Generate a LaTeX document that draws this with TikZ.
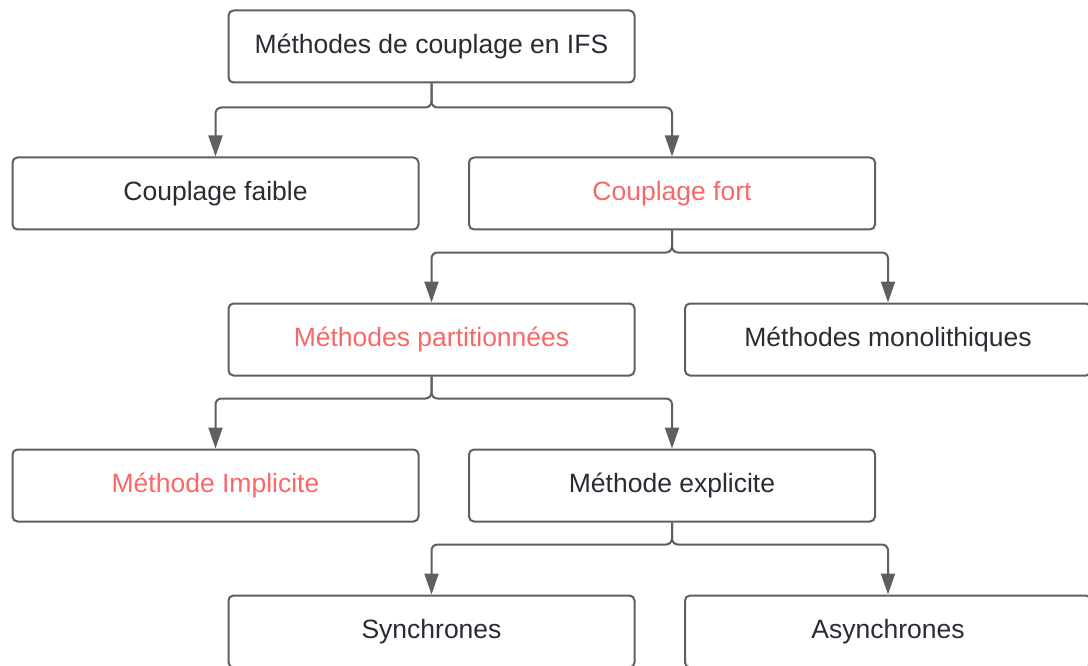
\documentclass[tikz,border=0pt]{standalone}
\usepackage{fontspec}
\setmainfont{Liberation Sans}
\usetikzlibrary{arrows.meta}
\definecolor{edgegray}{HTML}{5F5F5F}
\definecolor{ink}{HTML}{282C33}
\definecolor{hilite}{HTML}{F86868}
\begin{document}
\begin{tikzpicture}[x=1pt,y=-1pt,
  box/.style={draw=edgegray, line width=2pt, rounded corners=5pt,
    minimum width=406pt, minimum height=72pt, inner sep=0pt,
    text=ink, font=\fontsize{26.5}{31}\selectfont, fill=white},
  hot/.style={box, text=hilite},
  link/.style={draw=edgegray, line width=2pt, rounded corners=6pt,
    -{Triangle[length=21pt,width=14pt,sharp]}}]
\useasboundingbox (0,0) rectangle (1088,666);
% tree of coupling methods
\node[box] (root) at (431.5,46.5) {Méthodes de couplage en IFS};
\node[box] (faible) at (215.5,193.5) {Couplage faible};
\node[hot] (fort) at (672,193.5) {Couplage fort};
\node[hot] (part) at (431.5,339.5) {Méthodes partitionnées};
\node[box] (mono) at (888,339.5) {Méthodes monolithiques};
\node[hot] (impl) at (215.5,485.5) {Méthode Implicite};
\node[box] (expl) at (672,485.5) {Méthode explicite};
\node[box] (sync) at (431.5,631.5) {Synchrones};
\node[box] (async) at (888,631.5) {Asynchrones};
% connectors: down from the parent, across, then down to each child
\path[link] (root.south) -- ++(0,24) -| (faible.north);
\path[link] (root.south) -- ++(0,24) -| (fort.north);
\path[link] (fort.south) -- ++(0,22) -| (part.north);
\path[link] (fort.south) -- ++(0,22) -| (mono.north);
\path[link] (part.south) -- ++(0,22) -| (impl.north);
\path[link] (part.south) -- ++(0,22) -| (expl.north);
\path[link] (expl.south) -- ++(0,22) -| (sync.north);
\path[link] (expl.south) -- ++(0,22) -| (async.north);
\end{tikzpicture}
\end{document}
